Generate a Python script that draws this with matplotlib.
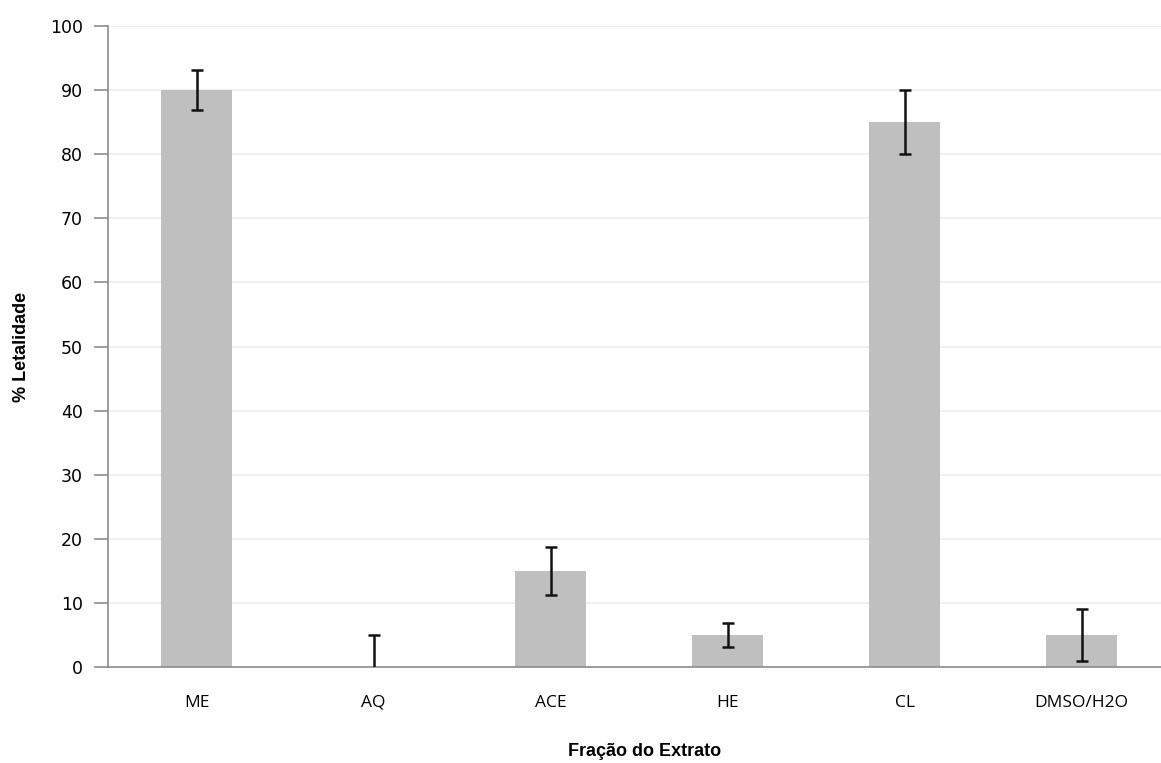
import matplotlib
matplotlib.use("Agg")
from matplotlib import pyplot as plt
import numpy as np

categories = ['ME', 'AQ', 'ACE', 'HE', 'CL', 'DMSO/H2O']
letalidade = [90, 0, 15, 5, 85, 5]
err_low = [3.1, 0, 3.7, 1.9, 5.0, 4.0]
err_high = [3.1, 5.0, 3.7, 1.9, 5.0, 4.0]

fig = plt.figure(figsize=(11.61, 7.63), dpi=100)
# axes area (it runs a bit past the right edge)
ax = fig.add_axes([108 / 1161, 1 - 667 / 763, 1062 / 1161, 641 / 763])

x = np.arange(len(categories))
ax.bar(x, letalidade, width=0.4, color='#bfbfbf', zorder=2)

# error bars, one call per bar so that a zero-height lower side has no cap
for i in range(len(categories)):
    eb = ax.errorbar(x[i], letalidade[i], yerr=[[err_low[i]], [err_high[i]]], fmt='none',
                     ecolor='#111111', elinewidth=1.8, capsize=4.5, capthick=1.8, zorder=3)
    if err_low[i] == 0:
        eb[1][0].remove()

ax.set_xlim(-0.5, len(categories) - 0.5)
ax.set_ylim(0, 100)
ax.set_yticks(range(0, 101, 10))
ax.set_xticks(x)
ax.set_xticklabels(categories, family='Open Sans', fontsize=12.5)
ax.tick_params(axis='x', length=0, pad=20)
ax.tick_params(axis='y', length=10, width=1.2, color='#8c8c8c', labelsize=12.5, pad=8)

ax.grid(axis='y', color='#ececec', linewidth=1.2, zorder=0)
ax.set_axisbelow(True)
for s in ['top', 'right']:
    ax.spines[s].set_visible(False)
ax.spines['left'].set_color('#8c8c8c')
ax.spines['bottom'].set_color('#8c8c8c')
ax.spines['left'].set_linewidth(1.2)
ax.spines['bottom'].set_linewidth(1.2)

ax.set_ylabel('% Letalidade', family='Liberation Sans', fontweight='bold', fontsize=13)
ax.set_xlabel('Fração do Extrato', family='Liberation Sans', fontweight='bold', fontsize=13)
ax.yaxis.set_label_coords(-(108 - 22) / 1062, (667 - 347) / 641)
ax.xaxis.set_label_coords((645 - 108) / 1062, -(752 - 667) / 641)
ax.xaxis.label.set_va('center')
ax.yaxis.label.set_va('center')

fig.savefig('out.png', dpi=100)
